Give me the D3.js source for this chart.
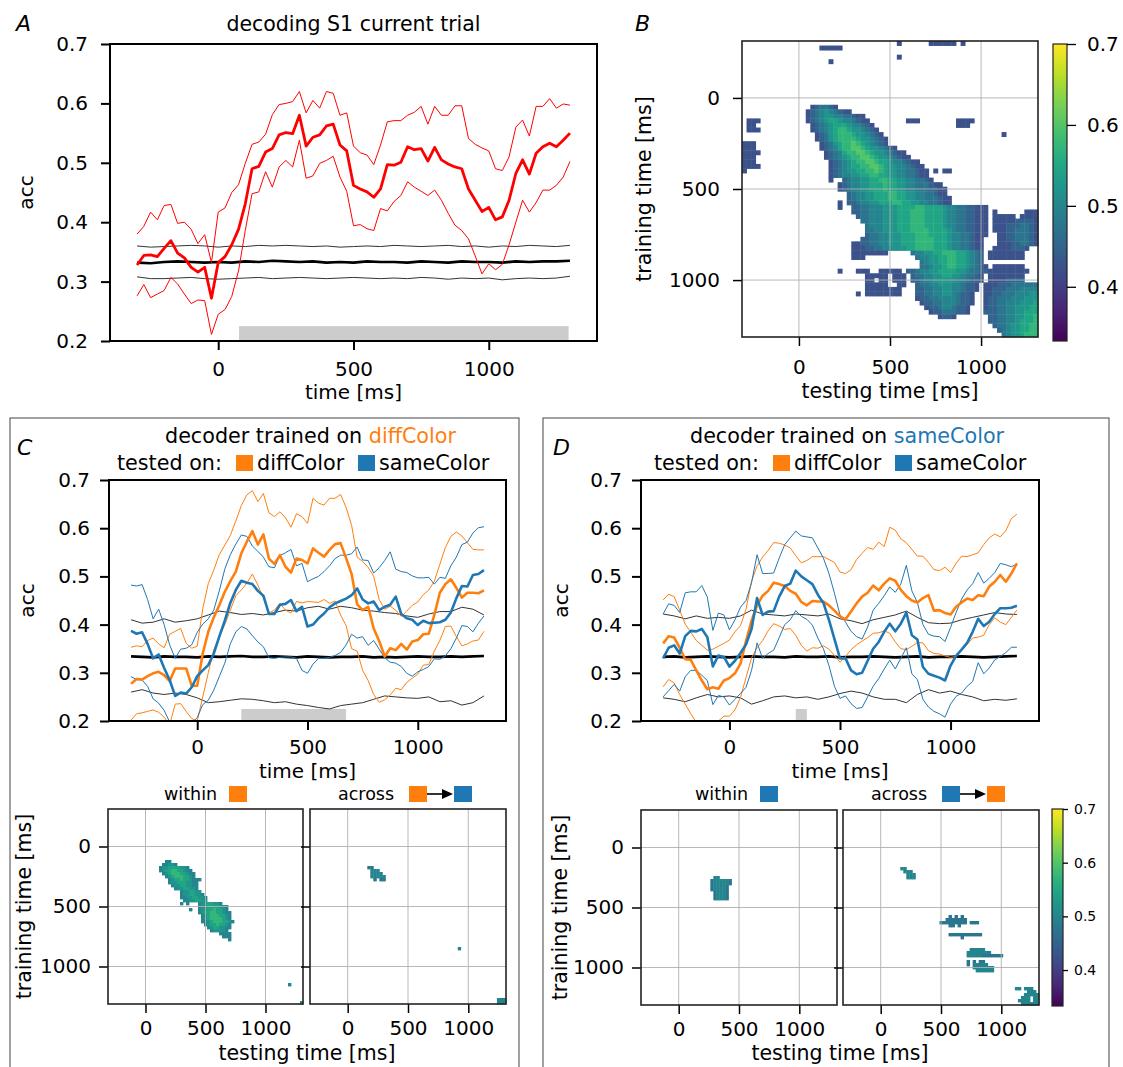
<!DOCTYPE html>
<html>
<head>
<meta charset="utf-8">
<script src="https://cdn.jsdelivr.net/npm/d3@7"></script>
<style>
  body { margin: 0; background: #fff; }
  text { font-family: "DejaVu Sans", sans-serif; }
</style>
</head>
<body>
<svg id="fig" width="1123" height="1067"></svg>
<script>
// time axis of the decoders (ms)
var times = [-300,-275,-250,-225,-200,-175,-150,-125,-100,-75,-50,-25,0,
  25,50,75,100,125,150,175,200,225,250,275,300,325,
  350,375,400,425,450,475,500,525,550,575,600,625,650,
  675,700,725,750,775,800,825,850,875,900,925,950,975,
  1000,1025,1050,1075,1100,1125,1150,1175,1200,1225,1250,1275,1300];
var times50 = [-300,-250,-200,-150,-100,-50,0,50,100,150,200,250,300,350,400,450,500,
  550,600,650,700,750,800,850,900,950,1000,1050,1100,1150,1200,1250,1300];

var ticksTime = [0, 500, 1000];
var ticksAcc = [0.2, 0.3, 0.4, 0.5, 0.6, 0.7];
var ticksCbar = [0.4, 0.5, 0.6, 0.7];

// panel A
var aMean = [.328,.344,.345,.342,.356,.369,.348,.340,.324,.316,.324,.272,.332,
  .342,.362,.388,.431,.490,.494,.518,.524,.547,.551,.549,.580,.528,
  .543,.547,.562,.565,.530,.520,.462,.456,.451,.442,.456,.497,.496,
  .501,.527,.522,.524,.503,.526,.505,.498,.493,.490,.456,.437,.418,
  .425,.404,.409,.437,.482,.505,.481,.516,.527,.533,.527,.538,.550];
var aUp = [.380,.393,.417,.404,.428,.430,.398,.400,.388,.364,.379,.332,.417,
  .424,.450,.463,.499,.531,.535,.548,.581,.598,.600,.603,.620,.584,
  .605,.592,.620,.617,.580,.584,.528,.517,.513,.497,.530,.569,.571,
  .571,.580,.585,.595,.565,.595,.580,.580,.596,.596,.541,.531,.525,
  .520,.490,.487,.510,.560,.572,.545,.595,.595,.608,.592,.599,.597];
var aLo = [.276,.295,.273,.279,.285,.307,.296,.279,.263,.269,.268,.211,.245,
  .253,.275,.318,.386,.448,.451,.485,.459,.493,.504,.493,.538,.474,
  .478,.499,.504,.511,.476,.452,.394,.396,.389,.386,.423,.419,.435,
  .445,.468,.459,.452,.445,.454,.437,.415,.395,.386,.372,.343,.313,
  .330,.320,.329,.362,.400,.437,.417,.433,.454,.454,.462,.476,.502];
var aChance = [.332,.331,.333,.334,.333,.332,.333,.332,.334,.333,.335,.334,.333,.334,.332,.333,.332,
  .334,.333,.333,.332,.334,.333,.332,.334,.333,.333,.332,.334,.333,.334,.334,.335];
var aChanceUp = [.360,.358,.359,.360,.361,.360,.358,.360,.359,.361,.360,.361,.360,.359,.360,.358,.359,
  .360,.359,.361,.360,.359,.360,.361,.359,.360,.358,.360,.359,.361,.360,.359,.361];
var aChanceLo = [.308,.305,.305,.306,.307,.305,.304,.305,.306,.307,.305,.306,.307,.306,.305,.306,.307,
  .306,.305,.306,.305,.307,.306,.304,.306,.305,.306,.303,.305,.306,.305,.306,.309];
var aBar = [77, 1295];

// panel C (trained on diffColor)
var cDiffMean = [.277,.287,.286,.293,.299,.302,.295,.283,.309,.309,.309,.273,.273,
  .340,.385,.415,.440,.468,.490,.510,.548,.572,.594,.566,.587,.537,
  .526,.544,.520,.508,.537,.534,.527,.558,.549,.541,.555,.567,.569,
  .538,.505,.442,.430,.437,.392,.366,.334,.351,.347,.360,.348,.365,
  .368,.380,.381,.420,.466,.484,.494,.476,.456,.466,.466,.465,.471];
var cDiffUp = [.353,.356,.354,.367,.372,.360,.352,.380,.386,.392,.361,.351,.355,
  .433,.485,.513,.545,.565,.585,.615,.647,.669,.678,.655,.672,.632,
  .624,.634,.622,.602,.630,.624,.610,.662,.652,.648,.662,.662,.670,
  .643,.606,.540,.531,.519,.500,.452,.432,.438,.430,.417,.428,.440,
  .447,.462,.472,.490,.525,.560,.583,.592,.584,.570,.556,.555,.555];
var cDiffLo = [.202,.215,.217,.220,.223,.218,.208,.192,.235,.236,.220,.205,.200,
  .250,.300,.347,.375,.400,.430,.460,.472,.486,.505,.482,.455,.424,
  .430,.444,.430,.424,.448,.445,.448,.447,.446,.452,.444,.449,.420,
  .398,.350,.345,.305,.284,.255,.239,.244,.254,.268,.265,.280,.289,
  .297,.316,.317,.345,.367,.396,.397,.375,.356,.360,.366,.368,.386];
var cSameMean = [.387,.381,.384,.360,.330,.338,.310,.285,.252,.259,.257,.270,.293,
  .305,.316,.340,.375,.408,.445,.472,.491,.487,.484,.470,.460,.422,
  .422,.441,.443,.451,.428,.437,.396,.400,.413,.423,.436,.444,.449,
  .454,.461,.475,.452,.444,.448,.430,.437,.441,.458,.422,.413,.410,
  .399,.408,.403,.404,.405,.410,.425,.455,.480,.479,.503,.505,.513];
var cSameUp = [.482,.480,.483,.452,.412,.432,.400,.358,.330,.349,.351,.358,.384,
  .401,.412,.430,.470,.515,.545,.567,.586,.583,.563,.552,.540,.520,
  .518,.543,.549,.556,.522,.527,.489,.495,.500,.510,.522,.537,.544,
  .544,.547,.561,.534,.533,.507,.518,.533,.551,.515,.510,.508,.501,
  .497,.497,.498,.484,.498,.496,.522,.540,.566,.571,.590,.601,.603];
var cSameLo = [.292,.286,.285,.272,.246,.237,.222,.198,.185,.180,.185,.195,.207,
  .234,.243,.264,.292,.320,.360,.385,.396,.391,.377,.364,.354,.331,
  .330,.332,.333,.333,.330,.305,.299,.318,.330,.330,.332,.336,.342,
  .358,.380,.372,.375,.357,.367,.349,.331,.322,.320,.313,.299,.293,
  .302,.307,.313,.329,.328,.335,.350,.372,.398,.396,.385,.403,.418];
var cChance = [.334,.333,.332,.334,.333,.333,.332,.334,.333,.334,.335,.333,.333,.334,.333,.332,.334,
  .333,.332,.333,.333,.334,.332,.333,.332,.333,.334,.333,.333,.334,.333,.334,.335];
var cChanceUp = [.410,.403,.405,.412,.405,.408,.412,.420,.428,.425,.421,.423,.420,.425,.430,.428,.435,
  .438,.432,.438,.435,.430,.428,.425,.423,.418,.415,.422,.427,.427,.436,.432,.420];
var cChanceLo = [.260,.265,.258,.255,.258,.255,.248,.238,.240,.243,.246,.245,.242,.238,.240,.235,.232,
  .228,.225,.232,.235,.238,.245,.252,.250,.248,.247,.250,.240,.242,.233,.238,.252];
var cBar = [200, 675];

// panel D (trained on sameColor)
var dDiffMean = [.361,.376,.373,.352,.328,.327,.305,.284,.266,.270,.267,.284,.289,
  .299,.319,.366,.408,.440,.460,.470,.487,.484,.480,.470,.464,.447,
  .440,.449,.448,.448,.440,.429,.417,.411,.427,.444,.458,.466,.481,
  .471,.485,.496,.491,.472,.459,.450,.446,.455,.461,.429,.430,.424,
  .421,.437,.446,.454,.451,.461,.459,.479,.489,.503,.489,.506,.527];
var dDiffUp = [.451,.463,.458,.430,.401,.384,.367,.357,.347,.349,.355,.361,.368,
  .385,.398,.432,.490,.522,.540,.554,.570,.569,.565,.559,.543,.528,
  .533,.541,.541,.541,.535,.529,.509,.506,.514,.535,.548,.560,.556,
  .571,.562,.602,.596,.578,.570,.556,.542,.542,.529,.514,.512,.519,
  .508,.527,.542,.541,.545,.549,.566,.580,.588,.582,.595,.620,.629];
var dDiffLo = [.271,.286,.279,.255,.235,.215,.197,.188,.185,.192,.200,.210,.210,
  .223,.249,.290,.331,.352,.367,.387,.402,.397,.390,.392,.378,.357,
  .345,.352,.351,.356,.349,.336,.322,.334,.348,.358,.366,.373,.382,
  .383,.387,.382,.364,.350,.348,.355,.363,.362,.346,.340,.339,.335,
  .332,.334,.350,.359,.372,.374,.378,.400,.414,.405,.400,.415,.430];
var dSameMean = [.330,.352,.357,.340,.376,.387,.386,.391,.374,.313,.336,.333,.313,
  .325,.341,.359,.391,.455,.420,.427,.428,.458,.480,.485,.512,.500,
  .492,.484,.462,.445,.410,.370,.330,.330,.305,.297,.300,.325,.350,
  .364,.385,.402,.386,.402,.425,.378,.369,.312,.298,.294,.290,.284,
  .315,.335,.348,.362,.385,.412,.397,.406,.422,.434,.434,.435,.439];
var dSameUp = [.422,.443,.440,.425,.466,.468,.468,.481,.457,.388,.424,.420,.389,
  .410,.436,.450,.487,.545,.506,.506,.507,.538,.566,.580,.594,.584,
  .582,.580,.559,.538,.506,.465,.420,.405,.386,.375,.370,.395,.430,
  .444,.460,.478,.467,.484,.523,.470,.446,.400,.380,.376,.375,.365,
  .394,.425,.453,.472,.485,.508,.486,.496,.508,.527,.524,.520,.526];
var dSameLo = [.250,.263,.276,.262,.292,.305,.305,.295,.284,.234,.253,.250,.233,
  .245,.257,.270,.305,.362,.330,.340,.347,.373,.400,.410,.429,.417,
  .411,.399,.372,.350,.315,.272,.247,.252,.236,.226,.228,.250,.272,
  .288,.308,.326,.308,.330,.352,.298,.286,.245,.229,.220,.215,.208,
  .235,.251,.258,.272,.282,.321,.298,.310,.327,.334,.342,.353,.353];
var dChance = [.333,.334,.332,.333,.334,.333,.332,.333,.334,.333,.333,.332,.334,.333,.333,.334,.332,
  .333,.333,.334,.333,.332,.333,.334,.332,.333,.333,.334,.333,.332,.333,.334,.335];
var dChanceUp = [.422,.418,.412,.418,.413,.415,.413,.418,.430,.422,.420,.418,.422,.420,.418,.422,.412,
  .408,.402,.410,.415,.420,.428,.415,.404,.402,.403,.410,.415,.420,.425,.422,.421];
var dChanceLo = [.248,.245,.240,.248,.255,.250,.252,.248,.235,.242,.250,.252,.248,.250,.245,.250,.257,
  .262,.258,.250,.245,.245,.238,.255,.265,.258,.262,.255,.250,.242,.245,.243,.246];
var dBar = [300, 350];

// temporal generalization maps: "row|startCol:levels ..." ; level k -> 0.375 + 0.025*k
var mapB = [
  "0|34:2 41:222222 48:2", "1|17:22222", "3|34:2", "4|19:2",
  "14|15:234432", "15|14:2345654322", "16|14:2345665544322",
  "17|1:222 14:23456776554322 36:222 47:2222",
  "18|1:22 15:23456777655432 47:222",
  "19|1:222 15:234567887665432",
  "20|16:234678887665432 57:2",
  "21|16:2346788887665432",
  "22|0:222 17:234678898765432",
  "23|0:222 17:23457889987665432",
  "24|0:2222 18:234578899876654322",
  "25|0:222 18:2345678899876654322",
  "26|0:222 19:23456788998776554322",
  "27|0:2222 19:234567788998766554322",
  "28|0:2 19:2345667788987665544322 42:2 44:22",
  "29|19:2345566778877665544322",
  "30|19:2 22:34556677887766554432",
  "31|21:23455667778776655444322",
  "32|21:234556677787766554443322",
  "33|23:3455667778877665544322",
  "34|23:34556677788776655444322",
  "35|21:2 23:33455667778877665544322",
  "36|21:2 24:334455566677778877776554433222",
  "37|24:334455566677788877776554433222 55:2 62:222",
  "38|25:34455566677788877776554433222 55:22222 61:2222",
  "39|26:4455566677788877776554433222 55:2222233332",
  "40|27:455566677788877776554433222 55:2223334432",
  "41|27:445566677788887777654433222 55:2223344432",
  "42|27:344556667778887777655443222 56:223344432",
  "43|26:334455666777888877765544322 56:223344432",
  "44|24:22334455666777888877765544322 56:222334432",
  "45|24:22233445566677888877765544322 55:22223332",
  "46|24:22222222 37:4556677888776543 54:22222222",
  "47|24:222 38:455667788776543 54:22222222",
  "48|39:45667788776543",
  "49|39:445667887765432 55:2222222",
  "50|21:2 25:222 30:22222 36:334556677776654433222222222",
  "51|27:22222 33:222 37:3445566776654432 54:22222222",
  "52|27:22 30:22 33:222 37:3345566666554332 54:22223333",
  "53|27:22222 34:22 38:34455666554332 53:222333444444",
  "54|27:22222222 38:33445566554332 53:223334445555",
  "55|25:2 27:22222222 38:3344556654332 53:223344455566",
  "56|38:2334455554332 53:233444555666",
  "57|39:233445554332 53:233445556667",
  "58|40:2334554332 53:233445566677",
  "59|41:233444332 53:333445566777",
  "60|43:2332 54:33445566778",
  "61|54:33445567778",
  "62|55:3445667788",
  "63|56:345667788",
  "64|57:45667888"
];
var mapCwithin = [
  "17|19:55", "18|18:55665", "19|17:5667777665", "20|17:56778877655",
  "21|18:56788877655", "22|19:5678887765", "23|20:56778776555", "24|20:5667776655",
  "25|21:566776655", "26|22:56677665", "27|24:5667766", "28|24:56677665",
  "29|24:556677665", "30|25:55667766", "31|24:5 26:5 30:56677665",
  "32|30:5667777665", "33|27:5 30:5667787765", "34|30:56778877655",
  "35|31:5678887765", "36|31:5678888765", "37|31:55678887765",
  "38|32:567787765", "39|33:56776655", "40|34:566665", "41|37:5555",
  "42|38:555", "43|40:5", "58|60:5", "64|64:5"
];
var mapCacross = [
  "19|19:44", "20|20:555", "21|20:5555", "22|20:55555", "23|21:4 23:44",
  "46|49:5", "63|62:555", "64|62:555"
];
var mapDwithin = [
  "22|24:55", "23|23:4555554", "24|23:4555554", "25|23:455554",
  "26|23:455554", "27|24:45554", "28|24:45554", "29|24:45554"
];
var mapDacross = [
  "19|19:55", "20|20:555", "21|21:555", "22|21:555",
  "35|35:4 37:4 39:4", "36|34:4444444", "37|32:444444444 42:444", "38|35:44 38:4",
  "41|35:44444444444", "42|39:4",
  "46|42:555 45:55", "47|41:55555555", "48|41:555554444444",
  "50|41:4 43:4 45:44", "51|41:4 43:55555", "52|43:5555555", "53|44:555555",
  "59|57:55 60:555", "60|61:555", "61|60:55555", "62|59:555 63:55",
  "63|58:5555 63:55", "64|59:555555"
];

var ORANGE = "#ff7f0e", BLUE = "#1f77b4", RED = "#ff0000";
var FONT = "DejaVu Sans, sans-serif";

var svg = d3.select("#fig");
var defs = svg.append("defs");
var color = d3.scaleSequential(d3.interpolateViridis).domain([0.333, 0.7]);

function text(x, y, str, size, opts) {
  opts = opts || {};
  var t = svg.append("text").attr("x", x).attr("y", y)
    .attr("font-size", size).attr("fill", opts.fill || "#000")
    .attr("text-anchor", opts.anchor || "start")
    .text(str);
  if (opts.italic) t.attr("font-style", "italic");
  if (opts.rotate) t.attr("transform", "rotate(-90," + x + "," + y + ")");
  return t;
}

function styleAxis(a, size, width) {
  a.attr("font-family", FONT).attr("font-size", size);
  a.select(".domain").remove();
  a.selectAll(".tick line").attr("stroke", "#000").attr("stroke-width", width);
  a.selectAll(".tick text").attr("fill", "#000");
}

function linePanel(p) {
  var x = d3.scaleLinear().domain([-400, 1400]).range([p.left, p.right]);
  var y = d3.scaleLinear().domain([0.2, 0.7]).range([p.bottom, p.top]);
  defs.append("clipPath").attr("id", p.id).append("rect")
    .attr("x", p.left).attr("y", p.top)
    .attr("width", p.right - p.left).attr("height", p.bottom - p.top);
  var g = svg.append("g").attr("clip-path", "url(#" + p.id + ")");
  g.append("rect")
    .attr("x", x(p.bar[0])).attr("width", x(p.bar[1]) - x(p.bar[0]))
    .attr("y", y(0.225)).attr("height", y(0.2) - y(0.225))
    .attr("fill", "#cccccc");
  p.series.forEach(function (s) {
    var line = d3.line()
      .x(function (d, i) { return x(s.t[i]); })
      .y(function (d) { return y(d); });
    g.append("path").datum(s.v)
      .attr("d", line).attr("fill", "none")
      .attr("stroke", s.c).attr("stroke-width", s.w)
      .attr("stroke-linejoin", "round");
  });
  var xa = svg.append("g").attr("transform", "translate(0," + p.bottom + ")")
    .call(d3.axisBottom(x).tickValues(ticksTime).tickSize(9)
      .tickPadding(p.xpad).tickFormat(d3.format("d")));
  styleAxis(xa, 20, 2);
  var ya = svg.append("g").attr("transform", "translate(" + p.left + ",0)")
    .call(d3.axisLeft(y).tickValues(ticksAcc).tickSize(9)
      .tickPadding(p.ypad).tickFormat(d3.format(".1f")));
  styleAxis(ya, 20, 2);
  svg.append("rect").attr("x", p.left).attr("y", p.top)
    .attr("width", p.right - p.left).attr("height", p.bottom - p.top)
    .attr("fill", "none").attr("stroke", "#000").attr("stroke-width", 2);
  text(p.accX, (p.top + p.bottom) / 2, "acc", 20, { anchor: "middle", rotate: true });
  text((p.left + p.right) / 2, p.xlabY, "time [ms]", 20, { anchor: "middle" });
}

function parseMap(rows) {
  var cells = [];
  rows.forEach(function (s) {
    var parts = s.split("|");
    var r = +parts[0];
    parts[1].split(" ").forEach(function (tok) {
      var kv = tok.split(":");
      var c0 = +kv[0];
      for (var k = 0; k < kv[1].length; k++) {
        var ch = kv[1][k];
        if (ch === ".") continue;
        cells.push({ r: r, c: c0 + k, v: 0.375 + 0.025 * (+ch) });
      }
    });
  });
  return cells;
}

function mapPanel(p) {
  var x = d3.scaleLinear().domain([-312.5, 1312.5]).range([p.left, p.right]);
  var y = d3.scaleLinear().domain([-312.5, 1312.5]).range([p.top, p.bottom]);
  var g = svg.append("g");
  g.selectAll("rect").data(parseMap(p.rows)).join("rect")
    .attr("x", function (d) { return x(times[d.c] - 12.5); })
    .attr("y", function (d) { return y(times[d.r] - 12.5); })
    .attr("width", function (d) { return x(times[d.c] + 12.5) - x(times[d.c] - 12.5) + 0.4; })
    .attr("height", function (d) { return y(times[d.r] + 12.5) - y(times[d.r] - 12.5) + 0.4; })
    .attr("fill", function (d) { return color(d.v); });
  // grid on top of the map
  ticksTime.forEach(function (t) {
    g.append("line").attr("x1", x(t)).attr("x2", x(t)).attr("y1", p.top).attr("y2", p.bottom)
      .attr("stroke", "#b0b0b0").attr("stroke-width", 0.9);
    g.append("line").attr("y1", y(t)).attr("y2", y(t)).attr("x1", p.left).attr("x2", p.right)
      .attr("stroke", "#b0b0b0").attr("stroke-width", 0.9);
  });
  var xa = svg.append("g").attr("transform", "translate(0," + p.bottom + ")")
    .call(d3.axisBottom(x).tickValues(ticksTime).tickSize(9)
      .tickPadding(p.xpad).tickFormat(d3.format("d")));
  styleAxis(xa, 20, 1.5);
  var ya = svg.append("g").attr("transform", "translate(" + p.left + ",0)")
    .call(d3.axisLeft(y).tickValues(ticksTime).tickSize(9)
      .tickPadding(p.ypad).tickFormat(p.ylabels ? d3.format("d") : ""));
  styleAxis(ya, 20, 1.5);
  svg.append("rect").attr("x", p.left).attr("y", p.top)
    .attr("width", p.right - p.left).attr("height", p.bottom - p.top)
    .attr("fill", "none").attr("stroke", "#222").attr("stroke-width", 1.6);
}

function colorbar(p) {
  var id = p.id;
  var grad = defs.append("linearGradient").attr("id", id)
    .attr("x1", 0).attr("y1", 1).attr("x2", 0).attr("y2", 0);
  [0, 0.1, 0.2, 0.3, 0.4, 0.5, 0.6, 0.7, 0.8, 0.9, 1].forEach(function (f) {
    grad.append("stop").attr("offset", f)
      .attr("stop-color", d3.interpolateViridis(f));
  });
  var yc = d3.scaleLinear().domain([0.333, 0.7]).range([p.bottom, p.top]);
  svg.append("rect").attr("x", p.left).attr("y", p.top)
    .attr("width", p.width).attr("height", p.bottom - p.top)
    .attr("fill", "url(#" + id + ")").attr("stroke", "#222").attr("stroke-width", 1.2);
  var ca = svg.append("g").attr("transform", "translate(" + (p.left + p.width) + ",0)")
    .call(d3.axisRight(yc).tickValues(ticksCbar).tickSize(p.tick)
      .tickPadding(p.pad).tickFormat(d3.format(".1f")));
  styleAxis(ca, p.font, 1.3);
}

// ---------- panel A ----------
text(16, 31, "A", 22, { italic: true });
text(353.5, 31, "decoding S1 current trial", 20.5, { anchor: "middle" });
linePanel({
  id: "clipA", left: 110, right: 597, top: 44, bottom: 341,
  xpad: 12, ypad: 13, accX: 33, xlabY: 399, bar: aBar,
  series: [
    { t: times50, v: aChanceUp, c: "#333", w: 1 },
    { t: times50, v: aChanceLo, c: "#333", w: 1 },
    { t: times50, v: aChance, c: "#000", w: 2.6 },
    { t: times, v: aUp, c: RED, w: 1 },
    { t: times, v: aLo, c: RED, w: 1 },
    { t: times, v: aMean, c: RED, w: 2.8 }
  ]
});

// ---------- panel B ----------
text(635, 31, "B", 22, { italic: true });
mapPanel({ left: 742, right: 1038, top: 41, bottom: 337, rows: mapB,
  ylabels: true, xpad: 13.5, ypad: 13 });
colorbar({ id: "cbB", left: 1053, width: 14, top: 44, bottom: 341, tick: 9, pad: 11, font: 20 });
text(651, 189, "training time [ms]", 20.5, { anchor: "middle", rotate: true });
text(890, 398, "testing time [ms]", 20.5, { anchor: "middle" });

// ---------- panel frames C / D ----------
svg.append("rect").attr("x", 10).attr("y", 418).attr("width", 509).attr("height", 700)
  .attr("fill", "none").attr("stroke", "#555").attr("stroke-width", 1.1);
svg.append("rect").attr("x", 543).attr("y", 418).attr("width", 566).attr("height", 700)
  .attr("fill", "none").attr("stroke", "#555").attr("stroke-width", 1.1);

function legendRow(x0) {
  text(x0, 470, "tested on:", 20.7);
  svg.append("rect").attr("x", x0 + 119).attr("y", 455).attr("width", 17).attr("height", 16).attr("fill", ORANGE);
  text(x0 + 140, 470, "diffColor", 20.7);
  svg.append("rect").attr("x", x0 + 241).attr("y", 455).attr("width", 17).attr("height", 16).attr("fill", BLUE);
  text(x0 + 262, 470, "sameColor", 20.7);
}

function mapLabels(xw, sqW, xa, sqA1, sqA2) {
  text(xw, 800, "within", 17.5);
  svg.append("rect").attr("x", xw + 65).attr("y", 786).attr("width", 18).attr("height", 16).attr("fill", sqW);
  text(xa, 800, "across", 17.5);
  svg.append("rect").attr("x", xa + 71).attr("y", 786).attr("width", 18).attr("height", 16).attr("fill", sqA1);
  svg.append("line").attr("x1", xa + 89).attr("x2", xa + 107).attr("y1", 794).attr("y2", 794)
    .attr("stroke", "#000").attr("stroke-width", 1.6);
  svg.append("path")
    .attr("d", "M" + (xa + 104) + ",789L" + (xa + 115) + ",794L" + (xa + 104) + ",799Z")
    .attr("fill", "#000");
  svg.append("rect").attr("x", xa + 116).attr("y", 786).attr("width", 18).attr("height", 16).attr("fill", sqA2);
}

// ---------- panel C ----------
text(17, 455, "C", 22, { italic: true });
var tc = text(165, 443, "decoder trained on ", 20.7);
tc.append("tspan").attr("fill", ORANGE).text("diffColor");
legendRow(117);
linePanel({
  id: "clipC", left: 109, right: 506, top: 480, bottom: 721,
  xpad: 9.5, ypad: 10, accX: 34, xlabY: 778, bar: cBar,
  series: [
    { t: times50, v: cChanceUp, c: "#333", w: 1 },
    { t: times50, v: cChanceLo, c: "#333", w: 1 },
    { t: times50, v: cChance, c: "#000", w: 2.6 },
    { t: times, v: cDiffUp, c: ORANGE, w: 1 },
    { t: times, v: cDiffLo, c: ORANGE, w: 1 },
    { t: times, v: cSameUp, c: BLUE, w: 1 },
    { t: times, v: cSameLo, c: BLUE, w: 1 },
    { t: times, v: cDiffMean, c: ORANGE, w: 2.6 },
    { t: times, v: cSameMean, c: BLUE, w: 2.6 }
  ]
});
mapLabels(164, ORANGE, 338, ORANGE, BLUE);
mapPanel({ left: 108, right: 303, top: 809, bottom: 1004, rows: mapCwithin,
  ylabels: true, xpad: 8, ypad: 8 });
mapPanel({ left: 310, right: 506, top: 809, bottom: 1004, rows: mapCacross,
  ylabels: false, xpad: 8, ypad: 8 });
text(31, 906.5, "training time [ms]", 20.5, { anchor: "middle", rotate: true });
text(307, 1060, "testing time [ms]", 20.5, { anchor: "middle" });

// ---------- panel D ----------
text(553, 455, "D", 22, { italic: true });
var td = text(690, 443, "decoder trained on ", 20.7);
td.append("tspan").attr("fill", BLUE).text("sameColor");
legendRow(654);
linePanel({
  id: "clipD", left: 641, right: 1039, top: 480, bottom: 721,
  xpad: 9.5, ypad: 10, accX: 568, xlabY: 778, bar: dBar,
  series: [
    { t: times50, v: dChanceUp, c: "#333", w: 1 },
    { t: times50, v: dChanceLo, c: "#333", w: 1 },
    { t: times50, v: dChance, c: "#000", w: 2.6 },
    { t: times, v: dDiffUp, c: ORANGE, w: 1 },
    { t: times, v: dDiffLo, c: ORANGE, w: 1 },
    { t: times, v: dSameUp, c: BLUE, w: 1 },
    { t: times, v: dSameLo, c: BLUE, w: 1 },
    { t: times, v: dDiffMean, c: ORANGE, w: 2.6 },
    { t: times, v: dSameMean, c: BLUE, w: 2.6 }
  ]
});
mapLabels(695, BLUE, 871, BLUE, ORANGE);
mapPanel({ left: 641, right: 837, top: 810, bottom: 1005, rows: mapDwithin,
  ylabels: true, xpad: 8, ypad: 8 });
mapPanel({ left: 843, right: 1039, top: 810, bottom: 1005, rows: mapDacross,
  ylabels: false, xpad: 8, ypad: 8 });
colorbar({ id: "cbD", left: 1052, width: 11, top: 809, bottom: 1006, tick: 5, pad: 6, font: 14 });
text(567, 907.5, "training time [ms]", 20.5, { anchor: "middle", rotate: true });
text(840, 1060, "testing time [ms]", 20.5, { anchor: "middle" });
</script>
</body>
</html>
